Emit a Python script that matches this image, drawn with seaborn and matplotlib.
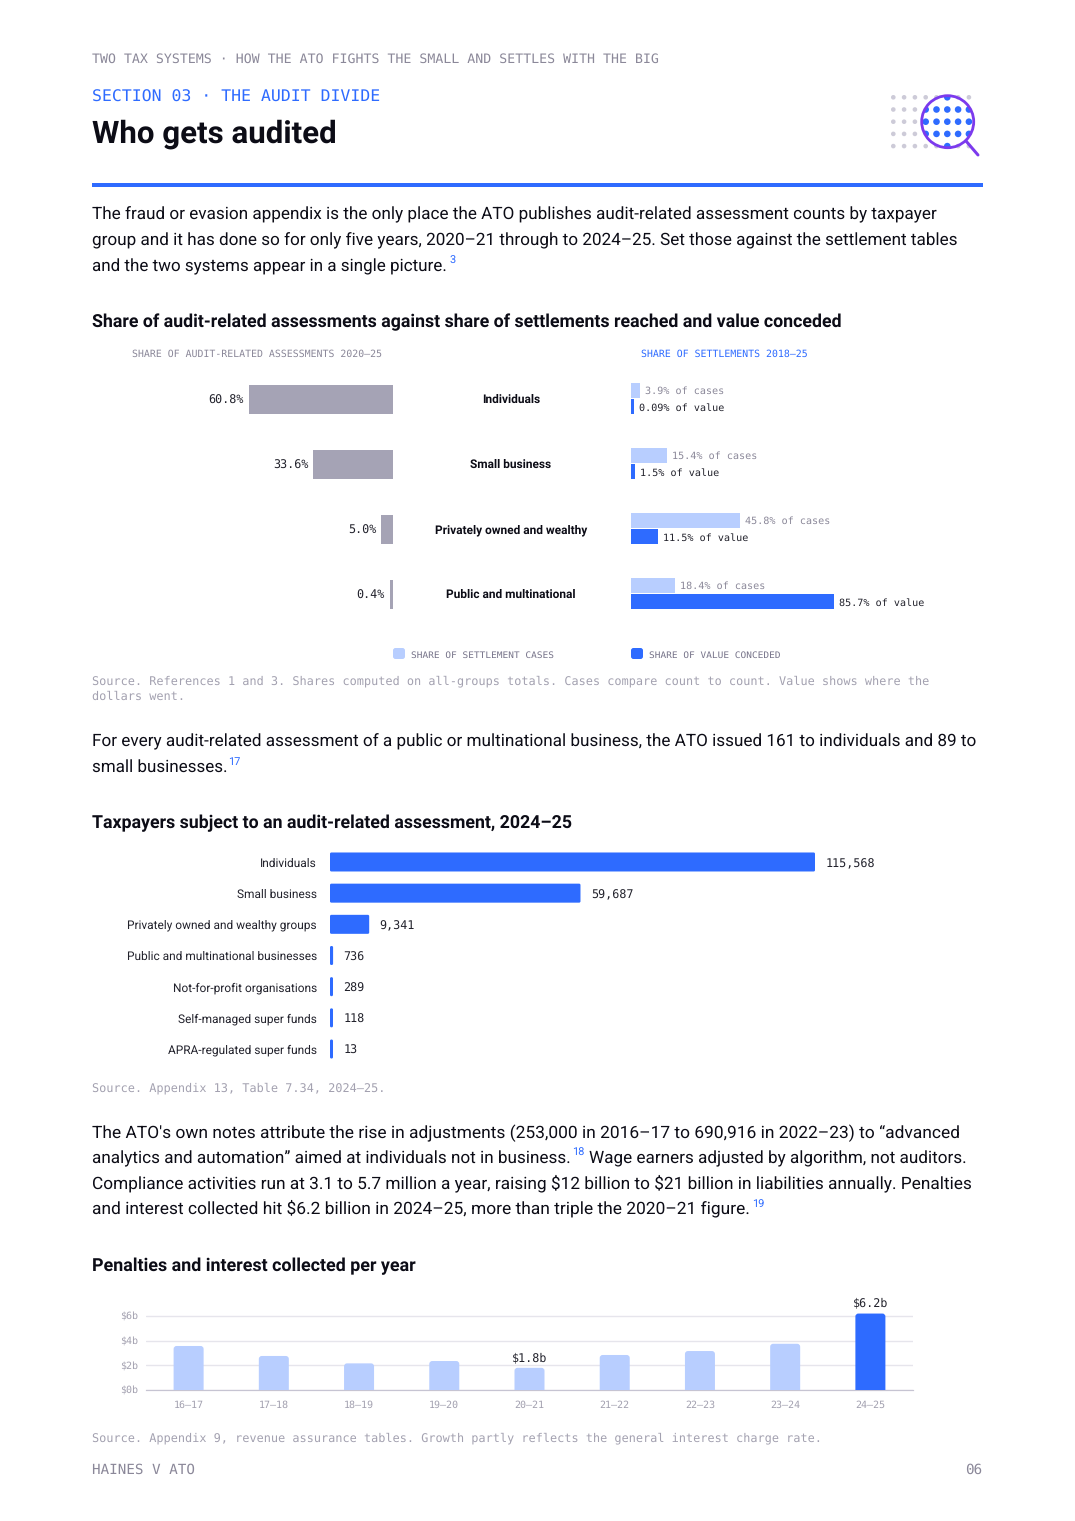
import numpy as np
import pandas as pd
import seaborn as sns
import matplotlib.pyplot as plt
from matplotlib.patches import Circle, FancyBboxPatch, Rectangle

groups = ["Individuals", "Small business", "Privately owned and wealthy", "Public and multinational"]
assess_share = [60.8, 33.6, 5.0, 0.4]
case_share = [3.9, 15.4, 45.8, 18.4]
value_share = [0.09, 1.5, 11.5, 85.7]
value_labels = ["0.09%", "1.5%", "11.5%", "85.7%"]

taxpayers = ["Individuals", "Small business", "Privately owned and wealthy groups",
             "Public and multinational businesses", "Not-for-profit organisations",
             "Self-managed super funds", "APRA-regulated super funds"]
assessments = [115568, 59687, 9341, 736, 289, 118, 13]

seasons = ["16–17", "17–18", "18–19", "19–20", "20–21", "21–22", "22–23", "23–24", "24–25"]
penalties = [3.57, 2.76, 2.16, 2.35, 1.8, 2.84, 3.16, 3.75, 6.2]
penalty_ticks = [0, 2, 4, 6]

BLUE = "#2e6bff"
LIGHT = "#b8ceff"
GREY_BAR = "#a5a3b5"
INK = "#0c0c16"
DARK = "#22222c"
MUTED = "#8b8899"
FAINT = "#a3a1b0"
GRID = "#e6e5ec"
PURPLE = "#7c3aed"
SANS = "Roboto"
MONO = "DejaVu Sans Mono"

W, H = 1075, 1521

sns.set_theme(style="white")
plt.rcParams["font.family"] = [SANS, "DejaVu Sans"]
plt.rcParams["text.parse_math"] = False
plt.rcParams["text.hinting"] = "no_hinting"

fig = plt.figure(figsize=(W / 100, H / 100), dpi=100, facecolor="white")


def px_axes(left, top, right, bottom):
    ax = fig.add_axes([left / W, 1 - bottom / H, (right - left) / W, (bottom - top) / H])
    ax.patch.set_alpha(0)
    return ax


def pt(px):
    return px * 0.72


page = px_axes(0, 0, W, H)
page.set_xlim(0, W)
page.set_ylim(H, 0)
page.axis("off")


def mono(x, y, s, size, color=MUTED, **kw):
    page.text(x, y, s, family=MONO, fontsize=pt(size), color=color, va="baseline", **kw)


def sans(x, y, s, size, color=INK, **kw):
    page.text(x, y, s, family=SANS, fontsize=pt(size), color=color, va="baseline", **kw)


def labels_on(ax, container, labels, pad, size, color, **kw):
    anns = ax.bar_label(container, labels=labels, padding=pt(pad), family=MONO,
                        fontsize=pt(size), color=color, **kw)
    return anns


def centre_labels(anns, drop=0):
    for a in anns:
        a.set_va("center_baseline")
        a.xyann = (a.xyann[0], a.xyann[1] - pt(drop))


def round_bars(ax, px_x, px_y, radius, keep_base=None):
    # swap the plain bars for rounded ones, same size
    for p in list(ax.patches):
        x, y, w, h = p.get_x(), p.get_y(), p.get_width(), p.get_height()
        if keep_base == "bottom":
            y -= radius * px_y
            h += radius * px_y
        box = FancyBboxPatch((x, y), w, h, boxstyle=f"round,pad=0,rounding_size={radius * px_x}",
                             mutation_aspect=px_y / px_x, facecolor=p.get_facecolor(),
                             edgecolor="none", linewidth=0, zorder=p.get_zorder())
        p.set_visible(False)
        ax.add_patch(box)


# header
mono(92, 63, "TWO TAX SYSTEMS · HOW THE ATO FIGHTS THE SMALL AND SETTLES WITH THE BIG", 13.23)
mono(92, 101.5, "SECTION 03 · THE AUDIT DIVIDE", 16.48, color=BLUE)
sans(92, 143, "Who gets audited", 31.26, weight="bold")
page.add_patch(Rectangle((92, 183), 891, 4, color=BLUE, lw=0))

# logo, dots first then the lens on top
cx, cy, lens_r = 947.7, 121.7, 26
lens = Circle((cx, cy), lens_r, transform=page.transData)
for i in range(8):
    for j in range(5):
        dx, dy = 893.3 + i * 10.8, 97.3 + j * 12.2
        inside = np.hypot(dx - cx, dy - cy) < lens_r + 0.2
        if inside:
            dot = Circle((dx, dy), 3.3, color=BLUE, lw=0)
            page.add_patch(dot)
            dot.set_clip_path(lens)
        else:
            page.add_patch(Circle((dx, dy), 2.3, color="#cdcbd8", lw=0))
page.add_patch(Circle((cx, cy), lens_r, fill=False, edgecolor=PURPLE, lw=pt(2.8)))
page.plot([966, 978], [141, 155], color=PURPLE, lw=pt(3), solid_capstyle="round")

# first paragraph
sans(92, 219, "The fraud or evasion appendix is the only place the ATO publishes audit-related assessment counts by taxpayer", 17.08)
sans(92, 245, "group and it has done so for only five years, 2020–21 through to 2024–25. Set those against the settlement tables", 17.16)
sans(92, 271, "and the two systems appear in a single picture.", 17.05)
sans(449, 264, "3", 11, color=BLUE)

# butterfly chart
sans(92, 327, "Share of audit-related assessments against share of settlements reached and value conceded", 17.74, weight="bold")
mono(132, 357, "SHARE OF AUDIT-RELATED ASSESSMENTS 2020–25", 9.92)
mono(641, 357, "SHARE OF SETTLEMENTS 2018–25", 9.92, color=BLUE)

THIN = 3 / 2.37  # thinnest bar the page draws

left_df = pd.DataFrame({"group": groups, "share": np.maximum(assess_share, THIN)})
ax_left = px_axes(130, 367, 393, 627)
sns.barplot(data=left_df, y="group", x="share", color=GREY_BAR, saturation=1, width=29 / 65,
            linewidth=0, ax=ax_left)
ax_left.set_xlim(263 / 2.37, 0)
centre_labels(labels_on(ax_left, ax_left.containers[0], [f"{v:.1f}%" for v in assess_share], 5, 11.7, DARK))
ax_left.axis("off")

right_df = pd.DataFrame({
    "group": groups * 2,
    "series": ["cases"] * 4 + ["value"] * 4,
    "share": case_share + list(np.maximum(value_share, THIN)),
})
ax_right = px_axes(631, 365.5, 983, 625.5)
sns.barplot(data=right_df, y="group", x="share", hue="series", palette=[LIGHT, BLUE], saturation=1,
            width=32 / 65, gap=1 / 16, legend=False, linewidth=0, ax=ax_right)
ax_right.set_xlim(0, 352 / 2.37)
centre_labels(labels_on(ax_right, ax_right.containers[0], [f"{v}% of cases" for v in case_share], 5, 10.1, MUTED))
centre_labels(labels_on(ax_right, ax_right.containers[1], [f"{v} of value" for v in value_labels], 5, 10.1, DARK), drop=1)
ax_right.axis("off")

for i, g in enumerate(groups):
    sans(511, 403 + 65 * i, g, 11.84, ha="center", weight="bold")

for x, colour, label in [(393, LIGHT, "SHARE OF SETTLEMENT CASES"), (631, BLUE, "SHARE OF VALUE CONCEDED")]:
    page.add_patch(FancyBboxPatch((x, 648), 12, 11, boxstyle="round,pad=0,rounding_size=2.5", color=colour, lw=0))
    mono(x + 18, 658, label, 9.46, color="#77748a")

mono(92, 684.5, "Source. References 1 and 3. Shares computed on all-groups totals. Cases compare count to count. Value shows where the", 11.89, color=FAINT)
mono(92, 700, "dollars went.", 11.89, color=FAINT)

sans(92, 746, "For every audit-related assessment of a public or multinational business, the ATO issued 161 to individuals and 89 to", 17.13)
sans(92, 772, "small businesses.", 17.0)
sans(228, 765, "17", 11, color=BLUE)

# taxpayers chart
sans(92, 828, "Taxpayers subject to an audit-related assessment, 2024–25", 17.74, weight="bold")

tax_df = pd.DataFrame({"taxpayer": taxpayers, "count": np.maximum(assessments, 3 * 115568 / 485)})
ax_tax = px_axes(330, 846.4, 983, 1064.6)
sns.barplot(data=tax_df, y="taxpayer", x="count", color=BLUE, saturation=1, width=19 / 31.17,
            linewidth=0, ax=ax_tax)
ax_tax.set_xlim(0, 653 * 115568 / 485)
centre_labels(labels_on(ax_tax, ax_tax.containers[0], [f"{v:,}" for v in assessments], 10.5, 11.8, DARK), drop=0.5)
ax_tax.set_xlabel("")
ax_tax.set_ylabel("")
ax_tax.set_xticks([])
ax_tax.tick_params(axis="y", length=0, pad=pt(13), labelsize=pt(11.87), labelcolor=DARK)
sns.despine(ax=ax_tax, left=True, bottom=True)
round_bars(ax_tax, 115568 / 485, 1 / 31.17, 1.4)

mono(92, 1092, "Source. Appendix 13, Table 7.34, 2024–25.", 11.89, color=FAINT)

sans(92, 1138, "The ATO's own notes attribute the rise in adjustments (253,000 in 2016–17 to 690,916 in 2022–23) to “advanced", 17.34)
sans(92, 1163, "analytics and automation” aimed at individuals not in business.", 17.1)
sans(572, 1156, "18", 11, color=BLUE)
sans(589, 1163, "Wage earners adjusted by algorithm, not auditors.", 17.09)
sans(92, 1188.5, "Compliance activities run at 3.1 to 5.7 million a year, raising $12 billion to $21 billion in liabilities annually. Penalties", 17.2)
sans(92, 1213.5, "and interest collected hit $6.2 billion in 2024–25, more than triple the 2020–21 figure.", 17.37)
sans(752, 1207, "19", 11, color=BLUE)

# penalties chart
sans(92, 1271, "Penalties and interest collected per year", 17.89, weight="bold")

pen_df = pd.DataFrame({"season": seasons, "penalty": penalties})
ax_pen = px_axes(146, 1290, 913, 1390)
sns.barplot(data=pen_df, x="season", y="penalty", hue="season", legend=False, saturation=1,
            palette=[LIGHT] * 8 + [BLUE], width=30 / 85.2, linewidth=0, ax=ax_pen, zorder=3)
ax_pen.set_ylim(0, 100 / 12.33)
ax_pen.set_xlim(-0.5, 8.5)
for c, v in zip(ax_pen.containers, penalties):
    text = f"${v}b" if v in (1.8, 6.2) else ""
    labels_on(ax_pen, c, [text], 4.5, 11.8, DARK)
ax_pen.set_yticks(penalty_ticks)
ax_pen.set_yticklabels([f"${t}b" for t in penalty_ticks], family=MONO)
ax_pen.set_xticks(range(len(seasons)))
ax_pen.set_xticklabels(seasons, family=MONO)
ax_pen.set_xlabel("")
ax_pen.set_ylabel("")
ax_pen.tick_params(axis="both", length=0, labelsize=pt(10), labelcolor=FAINT)
ax_pen.tick_params(axis="y", pad=pt(8))
ax_pen.tick_params(axis="x", pad=pt(10))
ax_pen.grid(axis="y", color=GRID, lw=pt(1.4))
ax_pen.set_axisbelow(True)
sns.despine(ax=ax_pen, left=True, top=True, right=True)
ax_pen.spines["bottom"].set_color("#c6c4d2")
ax_pen.spines["bottom"].set_linewidth(pt(1.2))
round_bars(ax_pen, 1 / 85.2, 1 / 12.33, 3, keep_base="bottom")

mono(92, 1441.5, "Source. Appendix 9, revenue assurance tables. Growth partly reflects the general interest charge rate.", 11.89, color=FAINT)
mono(92, 1474, "HAINES V ATO", 14.28)
mono(982, 1474, "06", 14.28, ha="right")

fig.savefig("out.png", dpi=100, facecolor="white")
